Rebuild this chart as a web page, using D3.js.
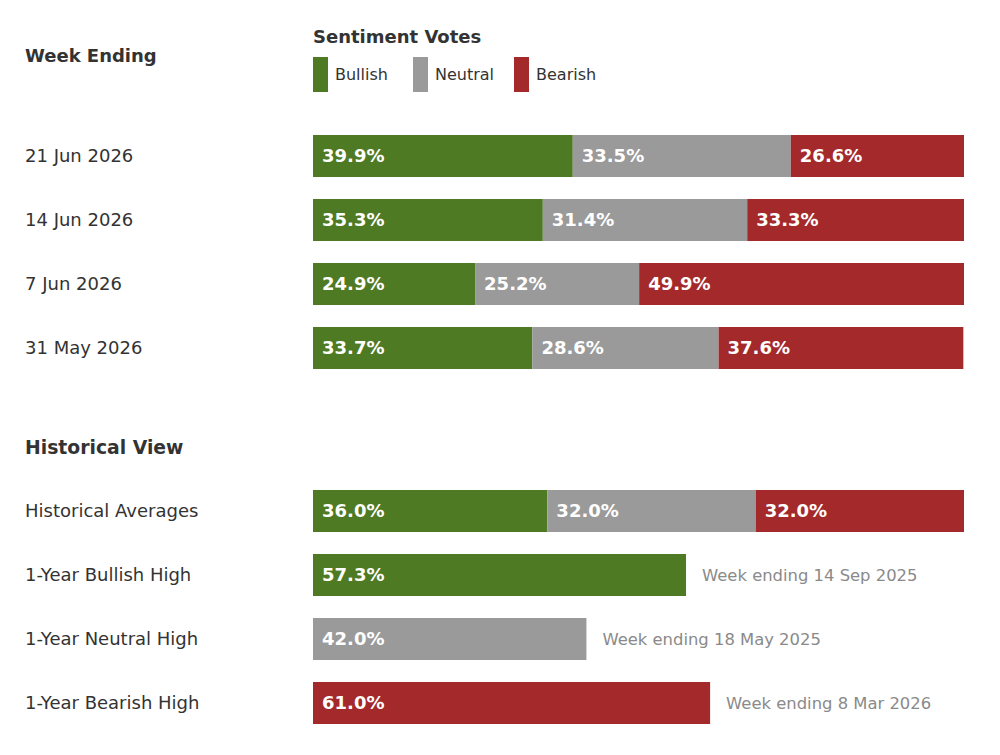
<!DOCTYPE html>
<html>
<head>
<meta charset="utf-8">
<script src="https://cdn.jsdelivr.net/npm/d3@7"></script>
<style>
  html, body { margin: 0; padding: 0; background: #fff; }
  svg { display: block; font-family: "DejaVu Sans", sans-serif; }
</style>
</head>
<body>
<div id="chart"></div>
<script>
// Weekly sentiment votes (share of votes, %)
var seriesKeys = ['Bullish', 'Neutral', 'Bearish'];
var seriesColors = ['#4e7a23', '#9a9a9a', '#a4292b'];

var weekLabels = ['21 Jun 2026', '14 Jun 2026', '7 Jun 2026', '31 May 2026'];
var bullishWeekly = [39.9, 35.3, 24.9, 33.7];
var neutralWeekly = [33.5, 31.4, 25.2, 28.6];
var bearishWeekly = [26.6, 33.3, 49.9, 37.6];

var avgLabel = 'Historical Averages';
var avgValues = [36.0, 32.0, 32.0];

var highLabels = ['1-Year Bullish High', '1-Year Neutral High', '1-Year Bearish High'];
var highValues = [57.3, 42.0, 61.0];
var highNotes = ['Week ending 14 Sep 2025', 'Week ending 18 May 2025', 'Week ending 8 Mar 2026'];

(function () {
  var width = 1000, height = 755;
  var svg = d3.select('#chart').append('svg')
    .attr('width', width).attr('height', height);

  var x = d3.scaleLinear().domain([0, 100]).range([313, 964]);
  var rowH = 42;
  var labelX = 25;
  var textCol = '#333';

  // headers
  svg.append('text').attr('x', labelX).attr('y', 56).attr('dy', '0.35em')
    .attr('font-size', 18).attr('font-weight', 'bold').attr('fill', textCol)
    .text('Week Ending');
  svg.append('text').attr('x', 313).attr('y', 37).attr('dy', '0.35em')
    .attr('font-size', 18).attr('font-weight', 'bold').attr('fill', textCol)
    .text('Sentiment Votes');
  svg.append('text').attr('x', labelX).attr('y', 447).attr('dy', '0.35em')
    .attr('font-size', 18.8).attr('font-weight', 'bold').attr('fill', textCol)
    .text('Historical View');

  // legend
  var legendX = [313, 413, 514];
  var leg = svg.append('g').selectAll('g').data(seriesKeys).enter().append('g')
    .attr('transform', function (d, i) { return 'translate(' + legendX[i] + ',57)'; });
  leg.append('rect').attr('width', 15).attr('height', 35)
    .attr('fill', function (d, i) { return seriesColors[i]; });
  leg.append('text').attr('x', 22).attr('y', 17.5).attr('dy', '0.35em')
    .attr('font-size', 16).attr('fill', textCol)
    .text(function (d) { return d; });

  // stacked rows
  var stackedRows = weekLabels.map(function (lab, i) {
    return { label: lab, values: [bullishWeekly[i], neutralWeekly[i], bearishWeekly[i]] };
  });
  stackedRows.push({ label: avgLabel, values: avgValues });
  var stackedY = [156, 220, 284, 348, 511];

  function drawLabel(y, txt) {
    svg.append('text').attr('x', labelX).attr('y', y).attr('dy', '0.35em')
      .attr('font-size', 18).attr('fill', textCol).text(txt);
  }

  function drawSeg(g, x0, x1, y, color, val) {
    g.append('rect').attr('x', x0).attr('y', y - rowH / 2)
      .attr('width', x1 - x0).attr('height', rowH).attr('fill', color);
    g.append('text').attr('x', x0 + 9).attr('y', y).attr('dy', '0.35em')
      .attr('font-size', 18).attr('font-weight', 'bold').attr('fill', '#fff')
      .text(val.toFixed(1) + '%');
  }

  stackedRows.forEach(function (row, i) {
    var y = stackedY[i];
    drawLabel(y, row.label);
    var g = svg.append('g');
    var acc = 0;
    row.values.forEach(function (v, k) {
      drawSeg(g, x(acc), x(Math.min(100, acc + v)), y, seriesColors[k], v);
      acc += v;
    });
  });

  // 1-year highs
  var highY = [575, 639, 703];
  highValues.forEach(function (v, i) {
    var y = highY[i];
    drawLabel(y, highLabels[i]);
    var g = svg.append('g');
    drawSeg(g, x(0), x(v), y, seriesColors[i], v);
    g.append('text').attr('x', x(v) + 16).attr('y', y).attr('dy', '0.35em')
      .attr('font-size', 16.4).attr('fill', '#8a8a8a').text(highNotes[i]);
  });
})();
</script>
</body>
</html>
